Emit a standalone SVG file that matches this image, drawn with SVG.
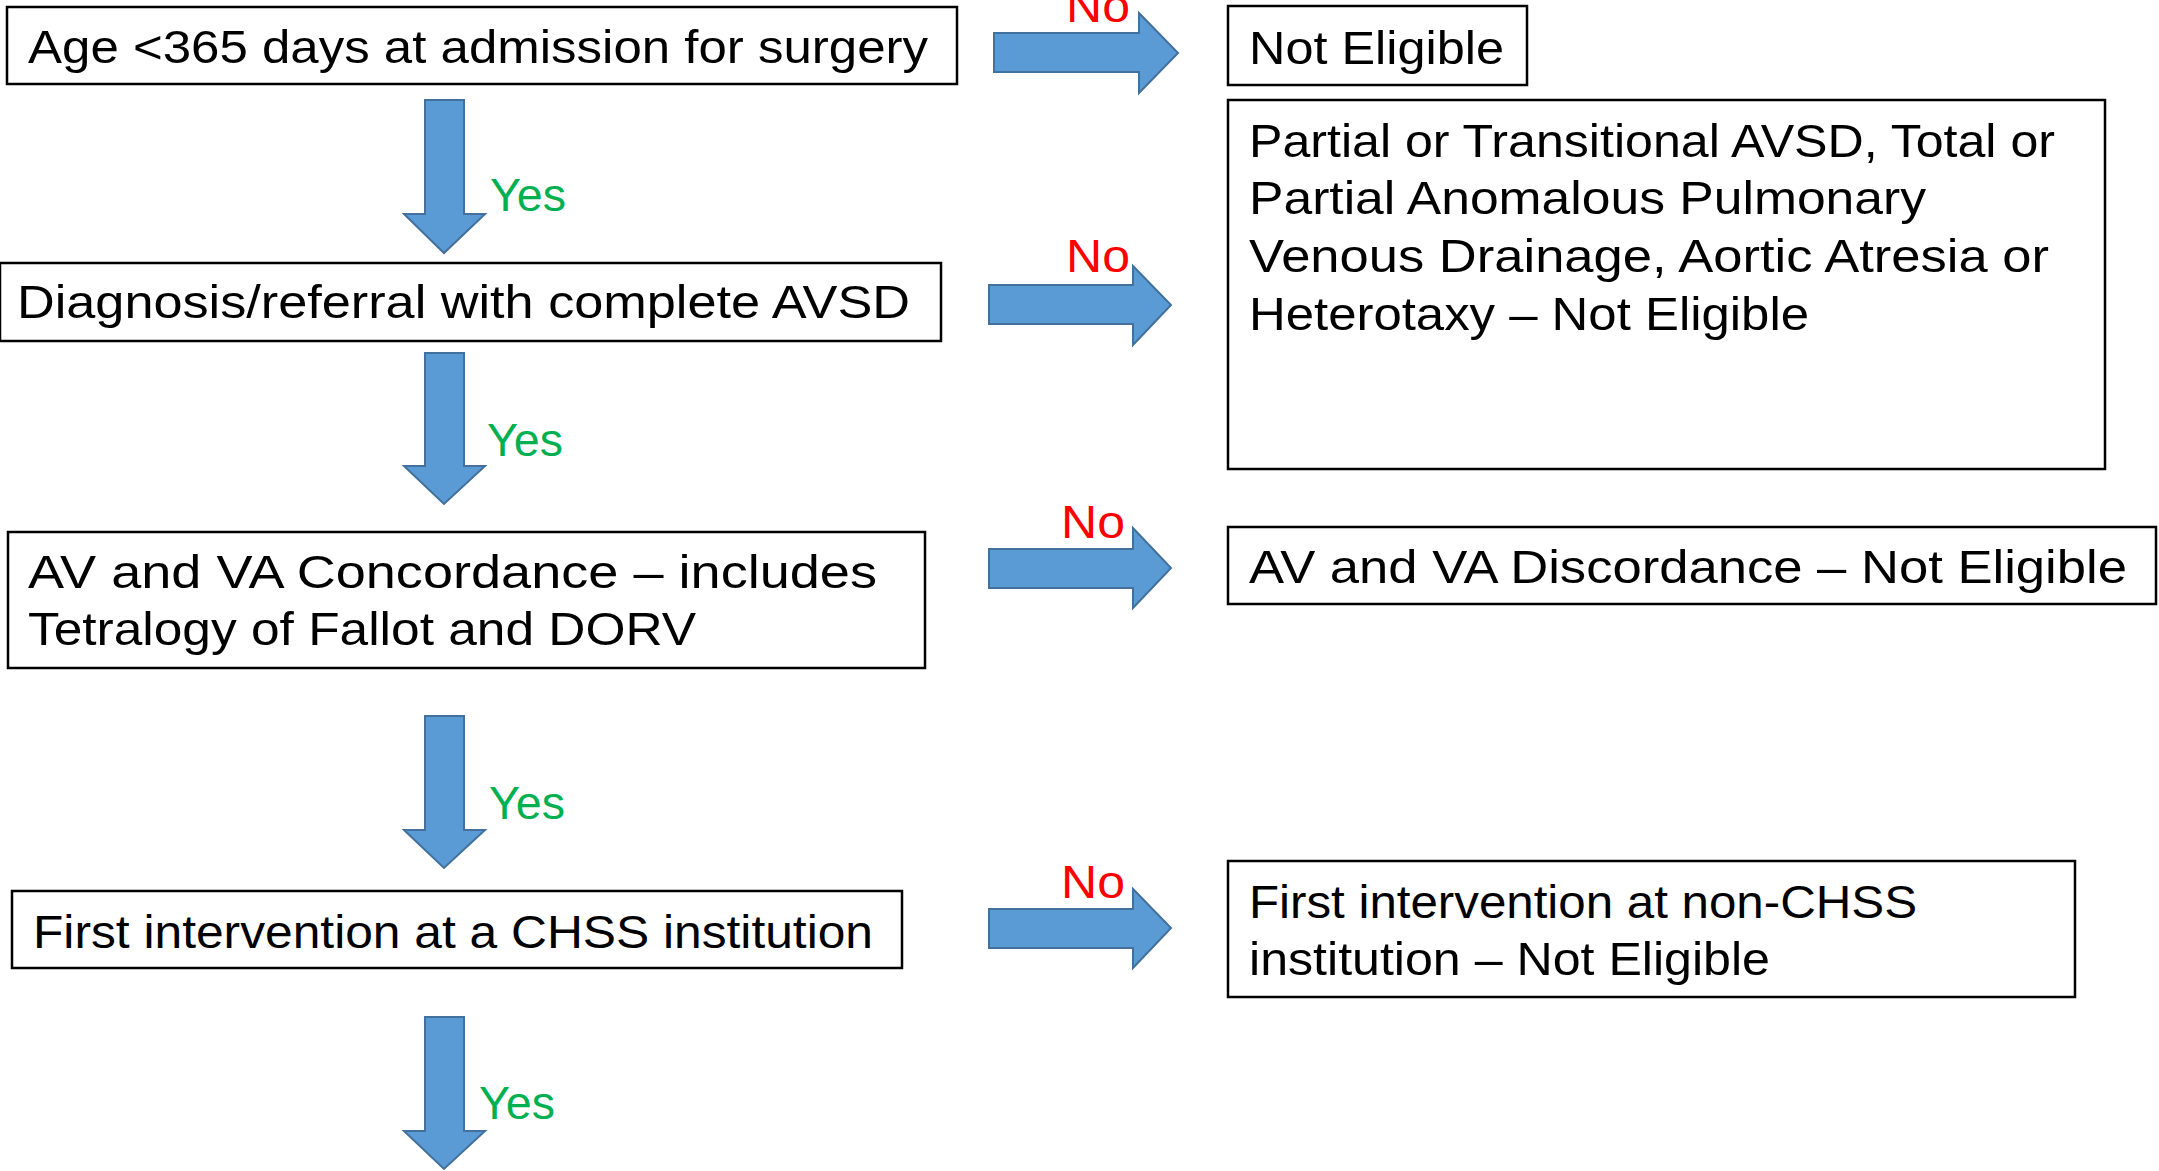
<svg xmlns="http://www.w3.org/2000/svg" width="2159" height="1171" viewBox="0 0 2159 1171">
<style>
.box{fill:#fff;stroke:#000;stroke-width:2.5}
.t{font-family:"Liberation Sans",Arial,sans-serif;font-size:46px;fill:#000}
.yes{font-family:"Liberation Sans",Arial,sans-serif;font-size:46px;fill:#00B050}
.no{font-family:"Liberation Sans",Arial,sans-serif;font-size:46px;fill:#FF0000}
.arr{fill:#5B9BD5;stroke:#41719C;stroke-width:2}
</style>
<rect width="2159" height="1171" fill="#fff"/>
<g id="connectors">
<polygon class="arr" points="994,33 1139,33 1139,13 1178,53 1139,93 1139,72 994,72"/>
<polygon class="arr" points="989,285 1133,285 1133,266 1171,305 1133,345 1133,324 989,324"/>
<polygon class="arr" points="989,549 1133,549 1133,528 1171,568 1133,608 1133,588 989,588"/>
<polygon class="arr" points="989,909 1133,909 1133,889 1171,928 1133,968 1133,948 989,948"/>
<polygon class="arr" points="425,100 464,100 464,214 485,214 444,253 404,214 425,214"/>
<polygon class="arr" points="425,353 464,353 464,466 485,466 444,504 404,466 425,466"/>
<polygon class="arr" points="425,716 464,716 464,830 485,830 444,868 404,830 425,830"/>
<polygon class="arr" points="425,1017 464,1017 464,1131 485,1131 444,1169 404,1131 425,1131"/>
<text class="no" x="1066" y="22" textLength="64" lengthAdjust="spacingAndGlyphs">No</text>
<text class="no" x="1066" y="272" textLength="64" lengthAdjust="spacingAndGlyphs">No</text>
<text class="no" x="1061" y="538" textLength="64" lengthAdjust="spacingAndGlyphs">No</text>
<text class="no" x="1061" y="898" textLength="64" lengthAdjust="spacingAndGlyphs">No</text>
<text class="yes" x="490" y="211" textLength="76" lengthAdjust="spacingAndGlyphs">Yes</text>
<text class="yes" x="487" y="456" textLength="76" lengthAdjust="spacingAndGlyphs">Yes</text>
<text class="yes" x="489" y="819" textLength="76" lengthAdjust="spacingAndGlyphs">Yes</text>
<text class="yes" x="479" y="1119" textLength="76" lengthAdjust="spacingAndGlyphs">Yes</text>
</g>
<g id="age">
<rect class="box" x="7" y="7" width="950" height="77"/>
<text class="t" x="28" y="63" textLength="900" lengthAdjust="spacingAndGlyphs">Age &lt;365 days at admission for surgery</text>
</g>
<g id="not-eligible">
<rect class="box" x="1228" y="6" width="299" height="79"/>
<text class="t" x="1249" y="64" textLength="255" lengthAdjust="spacingAndGlyphs">Not Eligible</text>
</g>
<g id="diagnosis">
<rect class="box" x="0" y="263" width="941" height="78"/>
<text class="t" x="17" y="318" textLength="893" lengthAdjust="spacingAndGlyphs">Diagnosis/referral with complete AVSD</text>
</g>
<g id="partial-avsd">
<rect class="box" x="1228" y="100" width="877" height="369"/>
<text class="t" x="1249" y="157" textLength="806" lengthAdjust="spacingAndGlyphs">Partial or Transitional AVSD, Total or</text>
<text class="t" x="1249" y="214" textLength="677" lengthAdjust="spacingAndGlyphs">Partial Anomalous Pulmonary</text>
<text class="t" x="1249" y="272" textLength="800" lengthAdjust="spacingAndGlyphs">Venous Drainage, Aortic Atresia or</text>
<text class="t" x="1249" y="330" textLength="560" lengthAdjust="spacingAndGlyphs">Heterotaxy – Not Eligible</text>
</g>
<g id="concordance">
<rect class="box" x="8" y="532" width="917" height="136"/>
<text class="t" x="28" y="588" textLength="849" lengthAdjust="spacingAndGlyphs">AV and VA Concordance – includes</text>
<text class="t" x="28" y="645" textLength="668" lengthAdjust="spacingAndGlyphs">Tetralogy of Fallot and DORV</text>
</g>
<g id="discordance">
<rect class="box" x="1228" y="527" width="928" height="77"/>
<text class="t" x="1249" y="583" textLength="878" lengthAdjust="spacingAndGlyphs">AV and VA Discordance – Not Eligible</text>
</g>
<g id="first-intervention">
<rect class="box" x="12" y="891" width="890" height="77"/>
<text class="t" x="33" y="948" textLength="840" lengthAdjust="spacingAndGlyphs">First intervention at a CHSS institution</text>
</g>
<g id="non-chss">
<rect class="box" x="1228" y="861" width="847" height="136"/>
<text class="t" x="1249" y="918" textLength="668" lengthAdjust="spacingAndGlyphs">First intervention at non-CHSS</text>
<text class="t" x="1249" y="975" textLength="521" lengthAdjust="spacingAndGlyphs">institution – Not Eligible</text>
</g>
</svg>
